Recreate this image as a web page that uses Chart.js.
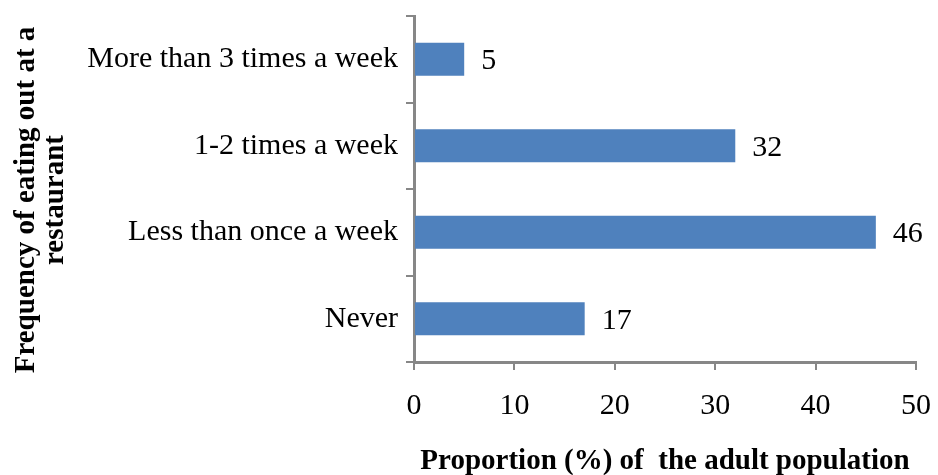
<!DOCTYPE html>
<html>
<head>
<meta charset="utf-8">
<script src="https://cdn.jsdelivr.net/npm/chart.js@4.4.1/dist/chart.umd.min.js"></script>
<style>
  html, body { margin: 0; padding: 0; background: #fff; }
  #wrap { width: 938px; height: 475px; }
</style>
</head>
<body>
<div id="wrap"><canvas id="chart1"></canvas></div>
<script>
// data
var categories = ['More than 3 times a week', '1-2 times a week', 'Less than once a week', 'Never'];
var values = [5, 32, 46, 17];
var xTicks = [0, 10, 20, 30, 40, 50];
var yTitle = ['Frequency of eating out at a', 'restaurant'];
var xTitle = 'Proportion (%) of  the adult population';

var serif = "'Liberation Serif', 'Times New Roman', serif";
var axisGray = '#878787';

// value labels to the right of each bar
var barLabels = {
    id: 'barLabels',
    afterDatasetsDraw: function (chart) {
        var ctx = chart.ctx;
        var meta = chart.getDatasetMeta(0);
        ctx.save();
        ctx.font = '30px ' + serif;
        ctx.fillStyle = '#000';
        ctx.textAlign = 'left';
        ctx.textBaseline = 'middle';
        meta.data.forEach(function (bar, i) {
            ctx.fillText(String(values[i]), bar.x + 17, bar.y + 2);
        });
        ctx.restore();
    }
};

// y axis title, two rotated lines, centred a little below the plot middle
var yTitlePlugin = {
    id: 'yTitlePlugin',
    afterDraw: function (chart) {
        var ctx = chart.ctx;
        ctx.save();
        ctx.font = 'bold 29px ' + serif;
        ctx.fillStyle = '#000';
        ctx.textAlign = 'center';
        ctx.textBaseline = 'middle';
        ctx.translate(27, 200);
        ctx.rotate(-Math.PI / 2);
        yTitle.forEach(function (line, i) {
            ctx.fillText(line, 0, i * 29);
        });
        ctx.restore();
    }
};

var chart = new Chart(document.getElementById('chart1'), {
    type: 'bar',
    data: {
        labels: categories,
        datasets: [{
            data: values,
            backgroundColor: '#4F81BD',
            borderWidth: 0,
            barPercentage: 0.38,
            categoryPercentage: 1
        }]
    },
    options: {
        indexAxis: 'y',
        responsive: true,
        maintainAspectRatio: false,
        animation: false,
        layout: { padding: { left: 0, right: 22, top: 16, bottom: 0 } },
        plugins: {
            legend: { display: false },
            tooltip: { enabled: false }
        },
        scales: {
            x: {
                min: 0,
                max: 50,
                afterBuildTicks: function (scale) {
                    scale.ticks = xTicks.map(function (v) { return { value: v }; });
                },
                afterFit: function (scale) {
                    scale.height = 113;
                    scale.paddingLeft = 0;
                    scale.paddingRight = 0;
                },
                border: { color: axisGray, width: 3 },
                grid: { drawOnChartArea: false, drawTicks: true, tickLength: 8, tickColor: axisGray, lineWidth: 2 },
                ticks: { color: '#000', font: { family: serif, size: 30 }, padding: 18, maxRotation: 0 },
                title: {
                    display: true,
                    text: xTitle,
                    color: '#000',
                    font: { family: serif, size: 29, weight: 'bold', lineHeight: 1.0 },
                    padding: { top: 0, bottom: -1 }
                }
            },
            y: {
                afterFit: function (scale) {
                    scale.width = 414;
                    scale.paddingTop = 0;
                    scale.paddingBottom = 0;
                },
                border: { color: axisGray, width: 3 },
                grid: { drawOnChartArea: false, drawTicks: true, tickLength: 8, tickColor: axisGray, lineWidth: 2 },
                ticks: { color: '#000', font: { family: serif, size: 30 }, padding: 8 }
            }
        }
    },
    plugins: [barLabels, yTitlePlugin]
});
</script>
</body>
</html>
